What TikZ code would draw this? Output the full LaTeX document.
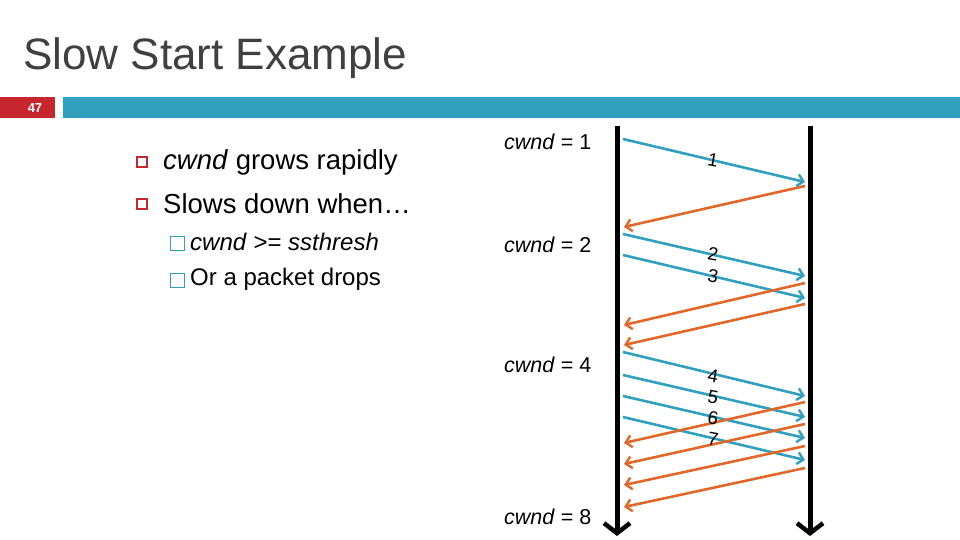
\documentclass[tikz,border=0pt]{standalone}
\usepackage{fontspec}
\setmainfont{Liberation Sans}
\usetikzlibrary{arrows.meta}
\definecolor{hred}{HTML}{C8262F}
\definecolor{hblue}{HTML}{31A0BF}
\definecolor{horange}{HTML}{E2682A}
\tikzset{
 seq/.style={line width=2.6pt,-{Straight Barb[length=6pt,width=12pt,line width=2.4pt]}},
 data/.style={seq,draw=hblue},
 ack/.style={seq,draw=horange},
 life/.style={line width=5pt,-{Straight Barb[length=10pt,width=26pt,line width=4.5pt]}},
 lbl/.style={font=\fontsize{21.5}{21.5}\selectfont,anchor=west,inner sep=0pt},
 num/.style={font=\fontsize{18.5}{18.5}\selectfont,inner sep=0pt,rotate=-10},
}
\begin{document}
\begin{tikzpicture}[x=1pt,y=-1pt]
\useasboundingbox (0,0) rectangle (960,540);
\node[anchor=west,inner sep=0pt,font=\fontsize{44}{44}\selectfont,text=black!75] (title) at (23,58) {Slow Start Example};
\fill[hred] (0,97) rectangle (55,118);
\node[text=white,font=\bfseries\fontsize{13}{13}\selectfont] (pg) at (35,108) {47};
\fill[hblue] (63,97) rectangle (960,118);
% bullets
\draw[hred,line width=1.3pt] (137,157) rectangle (147,167);
\draw[hred,line width=1.3pt] (137,199) rectangle (147,209);
\node[anchor=west,inner sep=0pt,font=\fontsize{27.5}{27.5}\selectfont] (b1) at (163,162) {\textit{cwnd} grows rapidly};
\node[anchor=west,inner sep=0pt,font=\fontsize{27.5}{27.5}\selectfont] (b2) at (163,204) {Slows down when…};
\draw[hblue,line width=0.9pt] (170,236) rectangle (184,250);
\draw[hblue,line width=0.9pt] (170,273) rectangle (184,287);
\node[anchor=west,inner sep=0pt,font=\fontsize{24}{24}\selectfont] (s1) at (190,242) {\textit{cwnd} >= \textit{ssthresh}};
\node[anchor=west,inner sep=0pt,font=\fontsize{24}{24}\selectfont] (s2) at (190,279) {Or a packet drops};
% cwnd labels
\node[lbl] (c1) at (504,142) {\textit{cwnd} = 1};
\node[lbl] (c2) at (504,245) {\textit{cwnd} = 2};
\node[lbl] (c4) at (504,365) {\textit{cwnd} = 4};
\node[lbl] (c8) at (504,517) {\textit{cwnd} = 8};
% lifelines
\coordinate (lt) at (617,126); \coordinate (lb) at (617,536);
\coordinate (rt) at (810,126); \coordinate (rb) at (810,536);
\draw[life] (lt) -- (lb);
\draw[life] (rt) -- (rb);
% data
\foreach \a/\b [count=\i] in {139/182,234/276,255/298,352/396,375/417,396/438,417/460}{
 \coordinate (ds\i) at (623,\a); \coordinate (de\i) at (805,\b);
 \draw[data] (ds\i) -- (de\i);}
% acks
\foreach \a/\b [count=\i] in {186/227,283/325,304/345,402/443,424/464,446/485,468/507}{
 \coordinate (as\i) at (805,\a); \coordinate (ae\i) at (624,\b);
 \draw[ack] (as\i) -- (ae\i);}
\node[num] (n1) at (713,160) {1};
\node[num] (n2) at (713,254) {2};
\node[num] (n3) at (713,276) {3};
\node[num] (n4) at (713,376) {4};
\node[num] (n5) at (713,397) {5};
\node[num] (n6) at (713,418) {6};
\node[num] (n7) at (713,439) {7};
\end{tikzpicture}
\end{document}
